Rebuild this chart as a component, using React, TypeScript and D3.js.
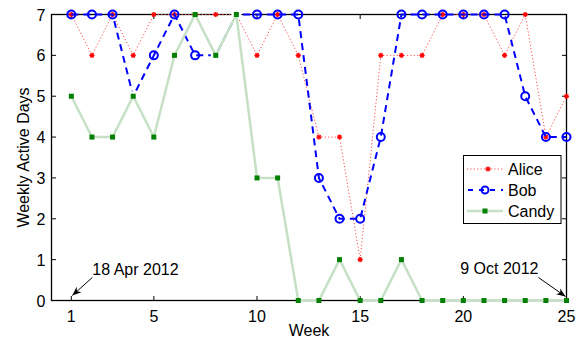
import React from "react";
import * as d3 from "d3";

const weeks = d3.range(1, 26);
const alice = [7, 6, 7, 6, 7, 7, 7, 7, 7, 6, 7, 6, 4, 4, 1, 6, 6, 6, 7, 7, 7, 6, 7, 4, 5];
const bob = [7, 7, 7, 5, 6, 7, 6, 6, 7, 7, 7, 7, 3, 2, 2, 4, 7, 7, 7, 7, 7, 7, 5, 4, 4];
const candy = [5, 4, 4, 5, 4, 6, 7, 6, 7, 3, 3, 0, 0, 1, 0, 0, 1, 0, 0, 0, 0, 0, 0, 0, 0];
const xTicks = [1, 5, 10, 15, 20, 25];
const yTicks = [0, 1, 2, 3, 4, 5, 6, 7];
const seriesNames = ["Alice", "Bob", "Candy"];

const W = 581;
const H = 341;
const L = 51.5, R = 566.5, T = 14.5, B = 300.5;
const FONT = "'Liberation Sans', Arial, Helvetica, sans-serif";
const FS = 16;

export default function App() {
  const x = d3.scaleLinear().domain([0.04, 25]).range([L, R]);
  const y = d3.scaleLinear().domain([0, 7]).range([B, T]);
  const line = (vals: number[]) =>
    d3.line<number>().x((_, i) => x(weeks[i])).y((v) => y(v))(vals) || "";

  const star = (cx: number, cy: number, s: number, key: any) => (
    <g key={key} stroke="#ff0000" strokeWidth={1.3}>
      <line x1={cx - s} y1={cy} x2={cx + s} y2={cy} />
      <line x1={cx} y1={cy - s} x2={cx} y2={cy + s} />
      <line x1={cx - s * 0.7} y1={cy - s * 0.7} x2={cx + s * 0.7} y2={cy + s * 0.7} />
      <line x1={cx - s * 0.7} y1={cy + s * 0.7} x2={cx + s * 0.7} y2={cy - s * 0.7} />
    </g>
  );

  const legX = 463.5, legY = 155.5, legW = 97.5, legH = 68;
  const rows = [169, 190, 211];

  const a1 = { x: x(1), y: y(0) };
  const a2 = { x: x(25), y: y(0) };

  return (
    <svg width={W} height={H} style={{ position: "absolute", left: 0, top: 0, background: "#fff" }}
      fontFamily={FONT}>
      <defs>
        <marker id="ah" viewBox="0 0 10 10" refX="10" refY="5" markerWidth="9" markerHeight="9"
          orient="auto" markerUnits="userSpaceOnUse">
          <path d="M0,1 L10,5 L0,9 L3,5 Z" fill="#000" />
        </marker>
      </defs>
      <rect x={0} y={0} width={W} height={H} fill="#fff" />
      {/* frame */}
      <rect x={L} y={T} width={R - L} height={B - T} fill="none" stroke="#000" strokeWidth={1.3} />
      {/* ticks */}
      {xTicks.map((t) => (
        <g key={"xt" + t}>
          <line x1={x(t)} x2={x(t)} y1={B} y2={B - 4.5} stroke="#000" />
          <line x1={x(t)} x2={x(t)} y1={T} y2={T + 4.5} stroke="#000" />
          <text x={x(t)} y={B + 21} fontSize={FS} textAnchor="middle">{t}</text>
        </g>
      ))}
      {yTicks.map((t) => (
        <g key={"yt" + t}>
          <line x1={L} x2={L + 4.5} y1={y(t)} y2={y(t)} stroke="#000" />
          <line x1={R} x2={R - 4.5} y1={y(t)} y2={y(t)} stroke="#000" />
          <text x={L - 6} y={y(t) + 6} fontSize={FS} textAnchor="end">{t}</text>
        </g>
      ))}
      <text x={(L + R) / 2} y={336} fontSize={FS} textAnchor="middle">Week</text>
      <text transform={`translate(29,${(T + B) / 2}) rotate(-90)`} fontSize={FS} textAnchor="middle">
        Weekly Active Days
      </text>

      {/* Alice */}
      <path d={line(alice)} fill="none" stroke="#ff4d4d" strokeWidth={1} strokeDasharray="1.2,2.2" />
      {alice.map((v, i) => star(x(weeks[i]), y(v), 2.6, "a" + i))}

      {/* Bob */}
      <path d={line(bob)} fill="none" stroke="#0000ff" strokeWidth={2} strokeDasharray="7,5" />
      {bob.map((v, i) =>
        v === candy[i] ? null : (
          <circle key={"b" + i} cx={x(weeks[i])} cy={y(v)} r={4} fill="none" stroke="#0000ff" strokeWidth={2} />
        )
      )}
      {bob.map((v, i) =>
        v === candy[i] ? (
          <rect key={"h" + i} x={x(weeks[i]) - 5} y={y(v) - 5} width={10} height={10} fill="#fff" />
        ) : null
      )}

      {/* Candy */}
      <path d={line(candy)} fill="none" stroke="#c6e0c6" strokeWidth={2.5} />
      {candy.map((v, i) => (
        <rect key={"c" + i} x={x(weeks[i]) - 2.5} y={y(v) - 2.5} width={5} height={5} fill="#008000" />
      ))}

      {/* annotations */}
      <line x1={a1.x + 21} y1={a1.y - 23} x2={a1.x + 1} y2={a1.y - 5} stroke="#000" strokeWidth={1}
        markerEnd="url(#ah)" />
      <text x={a1.x + 21} y={a1.y - 26} fontSize={FS}>18 Apr 2012</text>
      <line x1={a2.x - 28} y1={a2.y - 23} x2={a2.x - 1} y2={a2.y - 4} stroke="#000" strokeWidth={1}
        markerEnd="url(#ah)" />
      <text x={a2.x - 28} y={a2.y - 27} fontSize={FS} textAnchor="end">9 Oct 2012</text>

      {/* legend */}
      <rect x={legX} y={legY} width={legW} height={legH} fill="#fff" stroke="#000" strokeWidth={1} />
      <line x1={467} x2={503} y1={rows[0]} y2={rows[0]} stroke="#ff4d4d" strokeWidth={1} strokeDasharray="1.2,2.2" />
      {star(488, rows[0], 2.6, "la")}
      <line x1={467} x2={503} y1={rows[1]} y2={rows[1]} stroke="#0000ff" strokeWidth={2} strokeDasharray="5,6" strokeDashoffset={-1} />
      <circle cx={485} cy={rows[1]} r={3.5} fill="none" stroke="#0000ff" strokeWidth={2} />
      <line x1={467} x2={503} y1={rows[2]} y2={rows[2]} stroke="#c6e0c6" strokeWidth={2.5} />
      <rect x={485 - 2.5} y={rows[2] - 2.5} width={5} height={5} fill="#008000" />
      {seriesNames.map((n, i) => (
        <text key={n} x={508} y={rows[i] + 5.5} fontSize={FS}>{n}</text>
      ))}
    </svg>
  );
}
